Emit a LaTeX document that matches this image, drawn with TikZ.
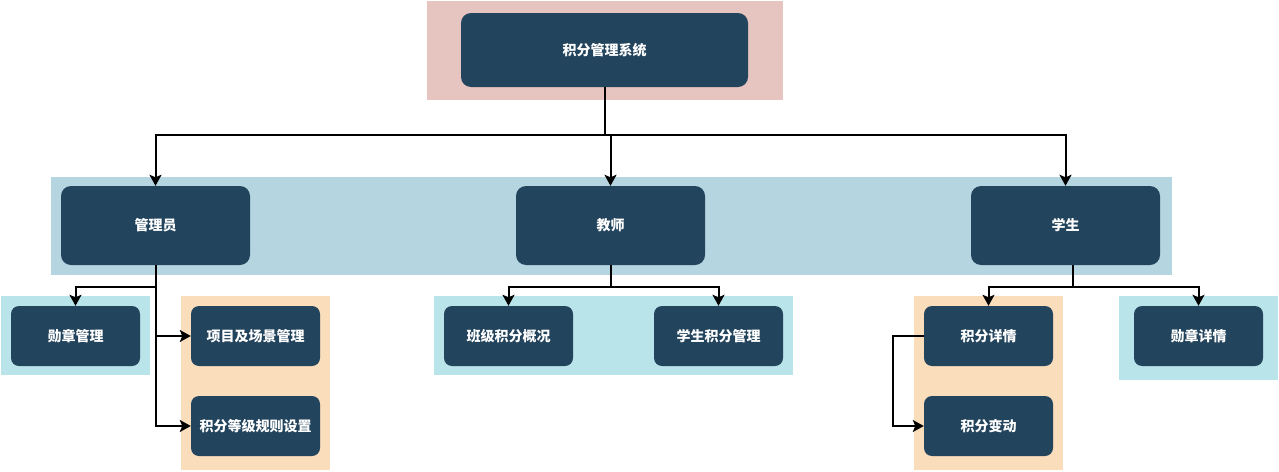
\documentclass[tikz,border=0pt]{standalone}
\usepackage{fontspec}
\newfontfamily\cjk{Noto Sans CJK SC}
\usetikzlibrary{arrows.meta}
\definecolor{boxblue}{HTML}{23445D}
\definecolor{bgpink}{HTML}{E6C4BF}
\definecolor{bgband}{HTML}{B5D5E1}
\definecolor{bgteal}{HTML}{B9E4EA}
\definecolor{bgorange}{HTML}{FADDBB}
\tikzset{
  box/.style={fill=boxblue, rounded corners=10pt, inner sep=0pt,
    text=white, font=\cjk\bfseries\fontsize{14}{16}\selectfont},
  topbox/.style={box, minimum width=287pt, minimum height=74pt},
  rolebox/.style={box, minimum width=189pt, minimum height=79pt},
  leafbox/.style={box, rounded corners=8pt, minimum width=129pt, minimum height=60pt},
  link/.style={line width=2pt, black},
  arr/.style={link, -{Stealth[length=11pt,width=12pt,inset=2.5pt]}}
}
\begin{document}
\begin{tikzpicture}[x=1pt,y=-1pt]
  \useasboundingbox (0,0) rectangle (1279,471);

  % backgrounds
  \fill[bgpink]   (427,1)    rectangle (783,100);
  \fill[bgband]   (51,177)   rectangle (1172,275);
  \fill[bgteal]   (1,296)    rectangle (150,375);
  \fill[bgorange] (181,296)  rectangle (330,470);
  \fill[bgteal]   (434,296)  rectangle (793,375);
  \fill[bgorange] (914,296)  rectangle (1063,470);
  \fill[bgteal]   (1119,296) rectangle (1278,380);

  \node[topbox] (root) at (604.5,50) {积分管理系统};

  \node[rolebox] (admin)   at (155.5,225.5)  {管理员};
  \node[rolebox] (teacher) at (610.5,225.5)  {教师};
  \node[rolebox] (student) at (1065.5,225.5) {学生};

  \node[leafbox] (badgemgr) at (75.5,336)   {勋章管理};
  \node[leafbox] (scene)    at (255.5,336)  {项目及场景管理};
  \node[leafbox] (levels)   at (255.5,426)  {积分等级规则设置};
  \node[leafbox] (classov)  at (508.5,336)  {班级积分概况};
  \node[leafbox] (stumgr)   at (718.5,336)  {学生积分管理};
  \node[leafbox] (detail)   at (988.5,336)  {积分详情};
  \node[leafbox] (change)   at (988.5,426)  {积分变动};
  \node[leafbox] (badgeinf) at (1198.5,336) {勋章详情};

  % connectors
  \coordinate (rootj) at (604.5,135);
  \draw[link] (root.south) -- (rootj);
  \draw[arr] (rootj) -| (admin.north);
  \draw[arr] (rootj) -| (teacher.north);
  \draw[arr] (rootj) -| (student.north);

  \coordinate (adminj) at (155.5,287);
  \draw[link] (admin.south) -- (adminj);
  \draw[arr] (adminj) -| (badgemgr.north);
  \draw[arr] (adminj) |- (scene.west);
  \draw[arr] (adminj) |- (levels.west);

  \coordinate (teacherj) at (610.5,287);
  \draw[link] (teacher.south) -- (teacherj);
  \draw[arr] (teacherj) -| (classov.north);
  \draw[arr] (teacherj) -| (stumgr.north);

  \coordinate (studentj) at (1073,287);
  \draw[link] (student.south -| studentj) -- (studentj);
  \draw[arr] (studentj) -| (detail.north);
  \draw[arr] (studentj) -| (badgeinf.north);

  \coordinate (detailj) at (893,336);
  \draw[arr] (detail.west) -- (detailj) |- (change.west);
\end{tikzpicture}
\end{document}
